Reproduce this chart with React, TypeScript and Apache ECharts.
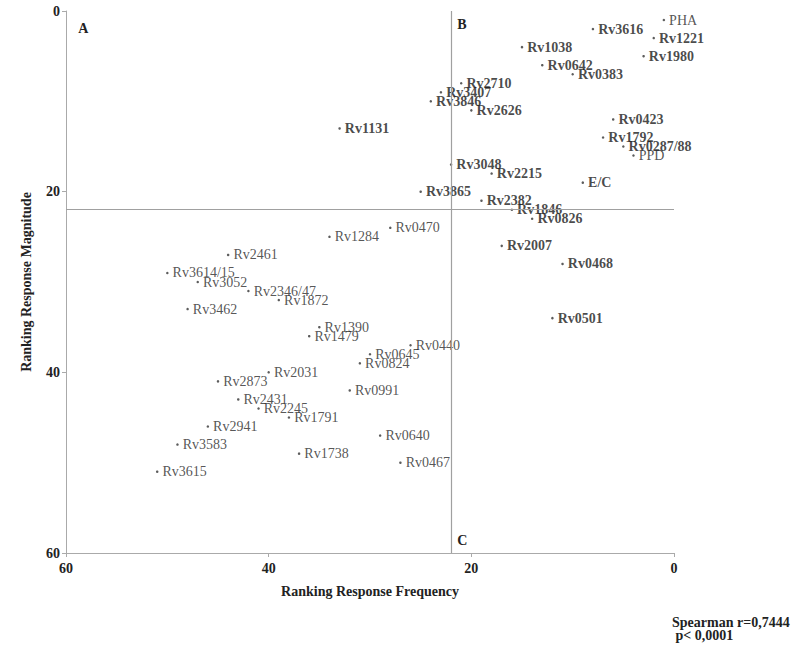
import React, { useEffect, useRef } from "react";
import * as echarts from "echarts";

// Antigen names and their rankings
const names = [
  "PHA", "Rv3616", "Rv1221", "Rv1038", "Rv1980", "Rv0642", "Rv0383", "Rv2710", "Rv3407", "Rv3846",
  "Rv2626", "Rv0423", "Rv1131", "Rv1792", "Rv0287/88", "PPD", "Rv3048", "Rv2215", "E/C", "Rv3865",
  "Rv2382", "Rv1846", "Rv0826", "Rv0470", "Rv1284", "Rv2007", "Rv2461", "Rv0468", "Rv3614/15", "Rv3052",
  "Rv2346/47", "Rv1872", "Rv3462", "Rv0501", "Rv1390", "Rv1479", "Rv0440", "Rv0645", "Rv0824", "Rv2031",
  "Rv2873", "Rv0991", "Rv2431", "Rv2245", "Rv1791", "Rv2941", "Rv0640", "Rv3583", "Rv1738", "Rv0467",
  "Rv3615",
];
// Ranking Response Frequency (x)
const frequency = [
  1, 8, 2, 15, 3, 13, 10, 21, 23, 24,
  20, 6, 33, 7, 5, 4, 22, 18, 9, 25,
  19, 16, 14, 28, 34, 17, 44, 11, 50, 47,
  42, 39, 48, 12, 35, 36, 26, 30, 31, 40,
  45, 32, 43, 41, 38, 46, 29, 49, 37, 27,
  51,
];
// Ranking Response Magnitude (y)
const magnitude = [
  1, 2, 3, 4, 5, 6, 7, 8, 9, 10,
  11, 12, 13, 14, 15, 16, 17, 18, 19, 20,
  21, 22, 23, 24, 25, 26, 27, 28, 29, 30,
  31, 32, 33, 34, 35, 36, 37, 38, 39, 40,
  41, 42, 43, 44, 45, 46, 47, 48, 49, 50,
  51,
];
// Antigens shown with emphasised labels
const highlighted = [
  "Rv3616", "Rv1221", "Rv1038", "Rv1980", "Rv0642", "Rv0383", "Rv2710", "Rv3407", "Rv3846", "Rv2626",
  "Rv0423", "Rv1131", "Rv1792", "Rv0287/88", "Rv3048", "Rv2215", "E/C", "Rv3865", "Rv2382", "Rv1846",
  "Rv0826", "Rv2007", "Rv0468", "Rv0501",
];
const cutoffFrequency = 22;
const cutoffMagnitude = 22;
const axisTicks = [0, 20, 40, 60];
const quadrants = [
  { label: "A", x: 58.8, y: 1.9 },
  { label: "B", x: 21.4, y: 1.5 },
  { label: "C", x: 21.4, y: 58.6 },
];
const spearman = ["Spearman r=0,7444", " p< 0,0001"];

const FONT = '"Liberation Serif", "Times New Roman", serif';

export default function App() {
  const ref = useRef<HTMLDivElement>(null);
  useEffect(() => {
    if (!ref.current) return;
    const chart = echarts.init(ref.current, undefined, { renderer: "svg" });
    const data = names.map((n, i) => {
      const strong = highlighted.includes(n);
      return {
        name: n,
        value: [frequency[i], magnitude[i]],
        label: {
          fontWeight: strong ? "bold" : "normal",
          color: strong ? "#1a1a1a" : "#2a2a2a",
        },
      };
    });
    chart.setOption({
      animation: false,
      backgroundColor: "#fff",
      textStyle: { fontFamily: FONT },
      grid: { left: 66, right: 133, top: 11, bottom: 99, containLabel: false },
      xAxis: {
        type: "value",
        inverse: true,
        min: axisTicks[0],
        max: axisTicks[axisTicks.length - 1],
        interval: 20,
        name: "Ranking Response Frequency",
        nameLocation: "middle",
        nameGap: 31,
        nameTextStyle: { fontFamily: FONT, fontWeight: "bold", fontSize: 14, color: "#222" },
        axisLine: { show: true, onZero: false, lineStyle: { color: "#aaa", width: 1 } },
        axisTick: { show: true, length: 4, lineStyle: { color: "#aaa" } },
        axisLabel: { fontFamily: FONT, fontWeight: "bold", fontSize: 14, color: "#222", margin: 8 },
        splitLine: { show: false },
      },
      yAxis: {
        type: "value",
        inverse: true,
        min: axisTicks[0],
        max: axisTicks[axisTicks.length - 1],
        interval: 20,
        name: "Ranking Response Magnitude",
        nameLocation: "middle",
        nameGap: 33,
        nameRotate: 90,
        nameTextStyle: { fontFamily: FONT, fontWeight: "bold", fontSize: 14, color: "#222" },
        axisLine: { show: true, onZero: false, lineStyle: { color: "#aaa", width: 1 } },
        axisTick: { show: true, length: 4, lineStyle: { color: "#aaa" } },
        axisLabel: { fontFamily: FONT, fontWeight: "bold", fontSize: 14, color: "#222", margin: 6 },
        splitLine: { show: false },
      },
      series: [
        {
          type: "scatter",
          symbol: "circle",
          symbolSize: 2.5,
          itemStyle: { color: "#333" },
          data,
          label: {
            show: true,
            position: "right",
            distance: 4,
            formatter: "{b}",
            fontFamily: FONT,
            fontSize: 14,
          },
          labelLayout: { hideOverlap: false },
          markLine: {
            silent: true,
            symbol: "none",
            label: { show: false },
            lineStyle: { color: "#a0a0a0", width: 1.2, type: "solid" },
            data: [{ xAxis: cutoffFrequency }, { yAxis: cutoffMagnitude }],
          },
          markPoint: {
            silent: true,
            symbol: "circle",
            symbolSize: 0,
            label: {
              show: true,
              position: "right",
              distance: 0,
              fontFamily: FONT,
              fontWeight: "bold",
              fontSize: 14,
              color: "#222",
              formatter: (p: any) => p.name,
            },
            data: quadrants.map((q) => ({ name: q.label, coord: [q.x, q.y] })),
          },
        },
      ],
      graphic: [
        {
          type: "text",
          left: 672,
          top: 615,
          style: {
            text: spearman.join("\n"),
            font: `bold 14px ${FONT}`,
            fill: "#222",
            lineHeight: 13,
          },
        },
      ],
    });
    return () => chart.dispose();
  }, []);
  return (
    <div
      ref={ref}
      style={{ position: "fixed", left: 0, top: 0, width: 807, height: 652 }}
    />
  );
}
